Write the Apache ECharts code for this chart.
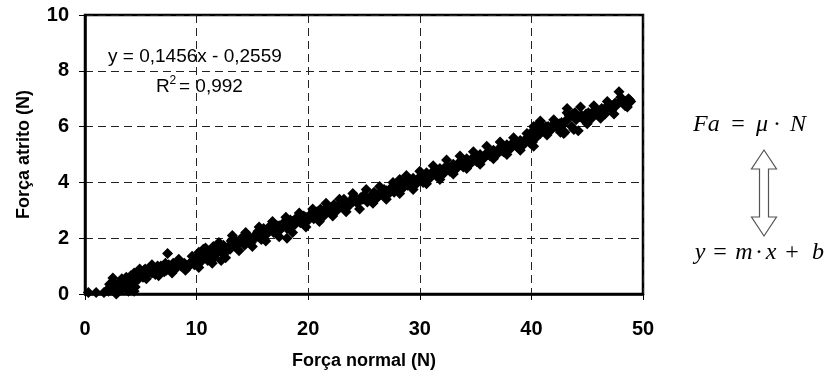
<!DOCTYPE html>
<html>
<head>
<meta charset="utf-8">
<script src="https://cdn.jsdelivr.net/npm/echarts@6/dist/echarts.min.js"></script>
<style>html,body{margin:0;padding:0;background:#fff}#c{width:832px;height:376px}</style>
</head>
<body>
<div id="c"></div>
<script>
// Força normal (N) — x values
var forcaNormal = [0.3,1.0,1.7,2.0,2.3,2.5,2.7,2.9,3.0,3.2,3.4,3.6,3.8,3.9,4.1,4.3,4.5,4.6,4.8,5.0,
5.2,5.4,5.6,5.8,6.0,6.2,6.5,6.7,6.9,7.1,7.4,7.5,7.7,7.9,8.1,8.3,8.6,8.9,9.2,9.5,
9.8,10.0,10.2,10.4,10.6,10.8,11.0,11.2,11.5,11.7,12.0,12.2,12.4,12.6,12.9,13.1,13.2,13.5,13.8,14.0,
14.3,14.6,14.9,15.2,15.5,15.8,16.0,16.3,16.6,16.9,17.2,17.5,17.8,18.1,18.4,18.7,19.0,19.3,19.6,19.9,
20.2,20.5,20.8,21.1,21.4,21.7,22.0,22.3,22.6,22.9,23.2,23.5,23.8,24.1,24.4,24.7,25.0,25.3,25.6,25.9,
26.2,26.5,26.8,27.1,27.4,27.7,28.0,28.2,28.5,28.8,29.1,29.4,29.7,30.0,30.3,30.6,30.9,31.2,31.5,31.8,
32.1,32.4,32.7,33.0,33.3,33.6,33.9,34.2,34.5,34.8,35.1,35.4,35.7,36.0,36.3,36.6,36.9,37.2,37.5,37.8,
38.1,38.4,38.7,39.0,39.3,39.6,39.9,40.0,40.2,40.4,40.6,40.9,41.2,41.5,41.8,42.1,42.4,42.7,42.9,43.0,
43.2,43.3,43.6,43.9,44.2,44.5,44.8,45.1,45.4,45.7,46.0,46.3,46.6,46.9,47.2,47.5,47.85,48.1,48.4,48.7,48.9,
2.1,2.6,3.1,3.5,3.7,4.0,4.2,4.4,4.7,4.9,5.1,5.3,5.5,5.7,5.9,6.1,6.3,6.6,6.8,7.0,
7.3,7.6,7.8,8.0,8.2,8.5,8.8,9.0,9.4,9.7,9.9,10.1,10.3,10.5,10.7,11.1,11.4,11.6,11.9,12.1,
12.3,12.7,13.0,13.4,13.7,14.1,14.4,14.8,15.0,15.4,15.7,16.1,16.5,16.8,17.1,17.4,17.7,18.0,18.1,18.3,
18.6,18.9,19.2,19.5,19.8,20.1,20.4,20.7,21.0,21.3,21.6,21.9,22.2,22.5,22.8,23.1,23.4,23.7,24.0,24.3,
24.6,24.9,25.2,25.5,25.8,26.1,26.4,26.7,27.0,27.3,27.6,27.9,28.3,28.6,28.9,29.2,29.5,29.8,30.1,30.4,
30.7,31.0,31.3,31.6,31.9,32.2,32.5,32.8,33.1,33.4,33.7,34.0,34.3,34.6,34.9,35.2,35.5,35.8,36.1,36.4,
36.7,37.0,37.3,37.6,37.9,38.2,38.5,38.8,39.1,39.4,39.7,40.1,40.3,40.5,40.8,41.0,41.3,41.6,41.9,42.2,
42.5,42.8,43.1,43.4,43.7,44.0,44.3,44.6,44.9,45.2,45.5,45.8,46.1,46.4,46.7,47.0,47.3,47.6,47.9,48.2,48.5,48.8,
2.2,2.8,3.3,4.4,4.9,5.5,6.0,6.6,7.2,7.8,8.4,9.0,9.6,10.2,10.8,11.4,12.0,12.6,13.2,13.8,
14.4,15.0,15.6,16.2,16.8,17.4,18.0,18.6,19.2,19.8,20.4,21.0,21.6,22.2,22.8,23.4,24.0,24.6,25.2,25.8,
26.4,27.0,27.6,28.2,28.8,29.4,30.0,30.6,31.2,31.8,32.4,33.0,33.6,34.2,34.8,35.4,36.0,36.6,37.2,37.8,
38.4,39.0,39.6,40.2,40.8,41.4,42.0,42.6,43.2,43.8,44.4,45.0,45.6,46.2,46.8,47.4,48.0,48.6];
// Força atrito (N) — y values
var forcaAtrito = [0.05,0.05,0.05,0.15,0.2,0.57,0.25,0.05,0.35,0.45,0.2,0.55,0.3,0.1,0.65,0.45,0.25,0.7,0.55,0.8,
0.6,0.9,0.7,0.95,0.75,0.85,1.0,0.75,0.9,0.8,1.45,1.05,0.85,1.1,0.9,1.15,1.0,1.1,0.95,1.15,
1.05,1.25,1.5,1.3,1.6,1.35,1.2,1.55,1.7,1.45,1.6,1.2,1.75,1.5,1.7,1.9,2.1,1.7,1.9,2.0,
1.75,2.05,1.85,2.1,2.25,1.95,2.35,2.15,2.45,2.2,2.45,2.3,2.55,2.35,2.65,2.45,2.75,2.55,2.8,2.6,
2.85,2.7,2.95,3.05,2.8,3.1,2.9,3.2,3.0,3.25,3.4,3.1,3.35,3.5,3.25,3.45,3.55,3.3,3.5,3.65,
3.45,3.65,3.75,3.55,3.8,3.65,3.9,4.1,3.8,4.05,3.9,4.15,3.95,4.2,4.0,4.35,4.15,4.4,4.25,4.5,
4.3,4.6,4.4,4.65,4.5,4.75,4.55,4.85,4.65,4.9,4.75,5.0,4.85,5.05,4.95,5.15,5.0,5.25,5.1,5.35,
5.2,5.45,5.3,5.5,5.35,5.6,5.4,5.8,6.0,5.6,5.9,6.05,5.85,6.0,5.9,6.1,5.95,6.15,5.75,5.8,
6.65,6.3,6.0,6.5,5.85,6.4,6.2,6.5,6.3,6.6,6.4,6.65,6.45,6.75,6.6,6.85,7.25,6.9,6.75,7.0,6.9,
0.1,0.4,0.15,0.35,0.6,0.45,0.3,0.75,0.5,0.65,0.7,0.85,0.65,0.85,0.8,0.95,0.7,0.85,1.0,0.95,
0.85,0.95,1.0,1.05,0.95,1.1,0.95,1.05,1.05,1.2,1.15,1.05,1.4,1.2,1.5,1.4,1.5,1.3,1.5,1.7,
1.45,1.65,1.6,1.95,1.8,1.85,1.95,2.0,1.95,2.05,2.15,2.2,2.3,2.35,2.3,2.45,2.4,2.5,2.0,2.45,
2.6,2.6,2.65,2.7,2.75,2.75,2.8,2.85,2.9,2.95,2.95,3.05,3.05,3.1,3.1,3.2,3.25,3.25,3.3,3.4,
3.35,3.4,3.45,3.4,3.5,3.55,3.55,3.6,3.7,3.65,3.75,3.75,3.9,3.95,3.9,4.0,4.05,4.05,4.1,4.2,
4.2,4.3,4.3,4.35,4.4,4.45,4.5,4.55,4.55,4.6,4.65,4.7,4.75,4.8,4.8,4.9,4.9,4.95,5.0,5.05,
5.1,5.15,5.15,5.2,5.25,5.3,5.35,5.4,5.45,5.5,5.5,5.45,5.8,6.05,5.75,5.95,6.0,5.85,6.05,6.0,
6.1,6.05,6.2,6.4,6.45,6.25,6.35,6.3,6.45,6.4,6.5,6.5,6.55,6.55,6.7,6.7,6.75,6.75,6.9,6.85,6.9,6.95,
0.35,0.0,0.55,0.1,0.9,0.55,1.05,0.65,1.1,0.75,1.25,0.85,1.35,0.95,1.65,1.1,1.85,1.3,1.95,1.55,
2.2,1.7,2.4,1.9,2.6,2.05,2.75,2.2,2.9,2.4,3.05,2.6,3.25,2.8,3.4,2.95,3.6,3.05,3.75,3.25,
3.85,3.4,4.0,3.6,4.25,3.75,4.4,3.95,4.6,4.1,4.8,4.3,4.95,4.5,5.1,4.65,5.3,4.85,5.45,5.0,
5.6,5.15,5.75,5.3,6.2,5.7,6.25,5.8,6.5,5.9,6.7,6.1,6.75,6.3,6.9,6.45,7.05,6.7];

var xTicks = {min: 0, max: 50, step: 10};
var yTicks = {min: 0, max: 10, step: 2};
var xName = 'Força normal (N)';
var yName = 'Força atrito (N)';
var eqLine = 'y = 0,1456x - 0,2559';
var r2Value = '= 0,992';

var points = forcaNormal.map(function (x, i) { return [x, forcaAtrito[i]]; });

var sans = '"Liberation Sans", Arial, sans-serif';
var serif = '"Liberation Serif", "Times New Roman", serif';

function mathText(txt, cx, cy, italic, align) {
  return {
    type: 'text', x: cx, y: cy, silent: true,
    style: { text: txt, fill: '#000', font: (italic ? 'italic ' : '') + '24px ' + serif,
      textAlign: align || 'center', textVerticalAlign: 'middle' }
  };
}

var chart = echarts.init(document.getElementById('c'), null, {renderer: 'canvas'});
chart.setOption({
  animation: false,
  backgroundColor: '#fff',
  grid: { left: 85, right: 189, top: 15, bottom: 82, show: true, borderColor: '#000', borderWidth: 2.5, containLabel: false },
  xAxis: {
    type: 'value', min: xTicks.min, max: xTicks.max, interval: xTicks.step,
    name: xName, nameLocation: 'middle', nameGap: 58,
    nameTextStyle: { fontFamily: sans, fontSize: 18, fontWeight: 'bold', color: '#000' },
    axisLine: { show: true, lineStyle: { color: '#000', width: 2.5 } },
    axisTick: { show: true, inside: false, length: 6, lineStyle: { color: '#000', width: 1 } },
    axisLabel: { fontFamily: sans, fontSize: 20, fontWeight: 'bold', color: '#000', margin: 25 },
    splitLine: { show: true, lineStyle: { color: '#222', width: 1, type: [8, 5] } }
  },
  yAxis: {
    type: 'value', min: yTicks.min, max: yTicks.max, interval: yTicks.step,
    name: yName, nameLocation: 'middle', nameGap: 52,
    nameTextStyle: { fontFamily: sans, fontSize: 18, fontWeight: 'bold', color: '#000' },
    axisLine: { show: true, lineStyle: { color: '#000', width: 2.5 } },
    axisTick: { show: true, inside: false, length: 6, lineStyle: { color: '#000', width: 1 } },
    axisLabel: { fontFamily: sans, fontSize: 20, fontWeight: 'bold', color: '#000', margin: 16 },
    splitLine: { show: true, lineStyle: { color: '#222', width: 1, type: [8, 5] } }
  },
  series: [{
    type: 'scatter', data: points, symbol: 'diamond', symbolSize: 11,
    itemStyle: { color: '#000', opacity: 1 }, silent: true
  }],
  graphic: [
    { type: 'text', x: 108, y: 57, silent: true,
      style: { text: eqLine, fill: '#000', font: '19px ' + sans, textAlign: 'left', textVerticalAlign: 'middle' } },
    { type: 'text', x: 156, y: 87, silent: true,
      style: { text: 'R', fill: '#000', font: '19px ' + sans, textAlign: 'left', textVerticalAlign: 'middle' } },
    { type: 'text', x: 169.5, y: 81, silent: true,
      style: { text: '2', fill: '#000', font: '12px ' + sans, textAlign: 'left', textVerticalAlign: 'middle' } },
    { type: 'text', x: 179, y: 87, silent: true,
      style: { text: r2Value, fill: '#000', font: '19px ' + sans, textAlign: 'left', textVerticalAlign: 'middle' } },
    mathText('Fa', 693, 125, true, 'left'),
    mathText('=', 738, 125, false),
    mathText('\u03BC', 762, 125, true),
    mathText('\u00B7', 777, 125, false),
    mathText('N', 798, 125, true),
    mathText('y', 700, 253, true),
    mathText('=', 720, 253, false),
    mathText('m', 744, 253, true),
    mathText('\u00B7', 759, 253, false),
    mathText('x', 771, 253, true),
    mathText('+', 792, 253, false),
    mathText('b', 818, 253, true),
    { type: 'polygon', silent: true,
      shape: { points: [[764,150],[776.5,169],[768.5,169],[768.5,217],[776.5,217],[764,236],[751.5,217],[759.5,217],[759.5,169],[751.5,169]] },
      style: { fill: '#fff', stroke: '#555', lineWidth: 1.2 } }
  ]
});
</script>
</body>
</html>
